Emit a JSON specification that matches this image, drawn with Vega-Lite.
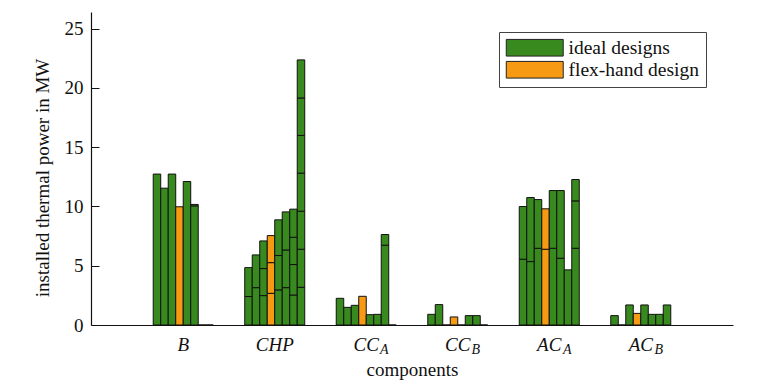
{
  "$schema": "https://vega.github.io/schema/vega-lite/v6.json",
  "width": 642,
  "height": 313,
  "autosize": {"type": "none"},
  "padding": {"left": 91, "top": 12, "right": 30, "bottom": 56},
  "config": {
    "view": {"stroke": null},
    "font": "Liberation Serif",
    "axis": {"grid": false}
  },
  "layer": [
    {
      "data": {"values": [
        {"c":"B","d":1,"u":1,"v":12.73,"t":"ideal designs"},
        {"c":"B","d":2,"u":1,"v":11.54,"t":"ideal designs"},
        {"c":"B","d":3,"u":1,"v":12.73,"t":"ideal designs"},
        {"c":"B","d":4,"u":1,"v":9.97,"t":"flex-hand design"},
        {"c":"B","d":5,"u":1,"v":12.1,"t":"ideal designs"},
        {"c":"B","d":6,"u":1,"v":10.05,"t":"ideal designs"},
        {"c":"B","d":6,"u":2,"v":0.12,"t":"ideal designs"},
        {"c":"B","d":7,"u":1,"v":0,"t":"ideal designs"},
        {"c":"B","d":8,"u":1,"v":0,"t":"ideal designs"},
        {"c":"CHP","d":1,"u":1,"v":2.4,"t":"ideal designs"},
        {"c":"CHP","d":1,"u":2,"v":2.44,"t":"ideal designs"},
        {"c":"CHP","d":2,"u":1,"v":3.15,"t":"ideal designs"},
        {"c":"CHP","d":2,"u":2,"v":2.76,"t":"ideal designs"},
        {"c":"CHP","d":3,"u":1,"v":2.48,"t":"ideal designs"},
        {"c":"CHP","d":3,"u":2,"v":2.28,"t":"ideal designs"},
        {"c":"CHP","d":3,"u":3,"v":2.33,"t":"ideal designs"},
        {"c":"CHP","d":4,"u":1,"v":2.67,"t":"flex-hand design"},
        {"c":"CHP","d":4,"u":2,"v":2.59,"t":"flex-hand design"},
        {"c":"CHP","d":4,"u":3,"v":2.28,"t":"flex-hand design"},
        {"c":"CHP","d":5,"u":1,"v":2.96,"t":"ideal designs"},
        {"c":"CHP","d":5,"u":2,"v":2.9,"t":"ideal designs"},
        {"c":"CHP","d":5,"u":3,"v":3.01,"t":"ideal designs"},
        {"c":"CHP","d":6,"u":1,"v":3.15,"t":"ideal designs"},
        {"c":"CHP","d":6,"u":2,"v":3.18,"t":"ideal designs"},
        {"c":"CHP","d":6,"u":3,"v":3.21,"t":"ideal designs"},
        {"c":"CHP","d":7,"u":1,"v":2.53,"t":"ideal designs"},
        {"c":"CHP","d":7,"u":2,"v":2.57,"t":"ideal designs"},
        {"c":"CHP","d":7,"u":3,"v":2.3,"t":"ideal designs"},
        {"c":"CHP","d":7,"u":4,"v":2.37,"t":"ideal designs"},
        {"c":"CHP","d":8,"u":1,"v":3.18,"t":"ideal designs"},
        {"c":"CHP","d":8,"u":2,"v":3.21,"t":"ideal designs"},
        {"c":"CHP","d":8,"u":3,"v":3.21,"t":"ideal designs"},
        {"c":"CHP","d":8,"u":4,"v":3.21,"t":"ideal designs"},
        {"c":"CHP","d":8,"u":5,"v":3.18,"t":"ideal designs"},
        {"c":"CHP","d":8,"u":6,"v":3.16,"t":"ideal designs"},
        {"c":"CHP","d":8,"u":7,"v":3.21,"t":"ideal designs"},
        {"c":"CC_A","d":1,"u":1,"v":2.25,"t":"ideal designs"},
        {"c":"CC_A","d":2,"u":1,"v":1.49,"t":"ideal designs"},
        {"c":"CC_A","d":3,"u":1,"v":1.66,"t":"ideal designs"},
        {"c":"CC_A","d":4,"u":1,"v":2.42,"t":"flex-hand design"},
        {"c":"CC_A","d":5,"u":1,"v":0.87,"t":"ideal designs"},
        {"c":"CC_A","d":6,"u":1,"v":0.9,"t":"ideal designs"},
        {"c":"CC_A","d":7,"u":1,"v":6.73,"t":"ideal designs"},
        {"c":"CC_A","d":7,"u":2,"v":0.9,"t":"ideal designs"},
        {"c":"CC_A","d":8,"u":1,"v":0,"t":"ideal designs"},
        {"c":"CC_B","d":1,"u":1,"v":0.9,"t":"ideal designs"},
        {"c":"CC_B","d":2,"u":1,"v":1.72,"t":"ideal designs"},
        {"c":"CC_B","d":3,"u":1,"v":0,"t":"ideal designs"},
        {"c":"CC_B","d":4,"u":1,"v":0.68,"t":"flex-hand design"},
        {"c":"CC_B","d":5,"u":1,"v":0,"t":"ideal designs"},
        {"c":"CC_B","d":6,"u":1,"v":0.79,"t":"ideal designs"},
        {"c":"CC_B","d":7,"u":1,"v":0.79,"t":"ideal designs"},
        {"c":"CC_B","d":8,"u":1,"v":0,"t":"ideal designs"},
        {"c":"AC_A","d":1,"u":1,"v":5.55,"t":"ideal designs"},
        {"c":"AC_A","d":1,"u":2,"v":4.44,"t":"ideal designs"},
        {"c":"AC_A","d":2,"u":1,"v":5.35,"t":"ideal designs"},
        {"c":"AC_A","d":2,"u":2,"v":5.4,"t":"ideal designs"},
        {"c":"AC_A","d":3,"u":1,"v":6.47,"t":"ideal designs"},
        {"c":"AC_A","d":3,"u":2,"v":4.11,"t":"ideal designs"},
        {"c":"AC_A","d":4,"u":1,"v":6.39,"t":"flex-hand design"},
        {"c":"AC_A","d":4,"u":2,"v":3.41,"t":"flex-hand design"},
        {"c":"AC_A","d":5,"u":1,"v":6.47,"t":"ideal designs"},
        {"c":"AC_A","d":5,"u":2,"v":4.87,"t":"ideal designs"},
        {"c":"AC_A","d":6,"u":1,"v":5.63,"t":"ideal designs"},
        {"c":"AC_A","d":6,"u":2,"v":5.71,"t":"ideal designs"},
        {"c":"AC_A","d":7,"u":1,"v":4.65,"t":"ideal designs"},
        {"c":"AC_A","d":8,"u":1,"v":6.47,"t":"ideal designs"},
        {"c":"AC_A","d":8,"u":2,"v":4.0,"t":"ideal designs"},
        {"c":"AC_A","d":8,"u":3,"v":1.8,"t":"ideal designs"},
        {"c":"AC_B","d":1,"u":1,"v":0.79,"t":"ideal designs"},
        {"c":"AC_B","d":2,"u":1,"v":0,"t":"ideal designs"},
        {"c":"AC_B","d":3,"u":1,"v":1.69,"t":"ideal designs"},
        {"c":"AC_B","d":4,"u":1,"v":0.98,"t":"flex-hand design"},
        {"c":"AC_B","d":5,"u":1,"v":1.69,"t":"ideal designs"},
        {"c":"AC_B","d":6,"u":1,"v":0.9,"t":"ideal designs"},
        {"c":"AC_B","d":7,"u":1,"v":0.9,"t":"ideal designs"},
        {"c":"AC_B","d":8,"u":1,"v":1.69,"t":"ideal designs"}
      ]},
      "mark": {"type": "bar", "stroke": "#111", "strokeWidth": 1},
      "encoding": {
        "x": {
          "field": "c", "type": "nominal",
          "sort": ["B","CHP","CC_A","CC_B","AC_A","AC_B"],
          "scale": {"paddingInner": 0.3443, "paddingOuter": 0.68},
          "axis": {
            "title": "components",
            "labelExpr": "split(datum.value,'_')[0]",
            "labelAngle": 0, "ticks": false,
            "labelFontStyle": "italic", "labelFontSize": 19, "labelColor": "#111",
            "labelPadding": 10.6,
            "domainColor": "#111", "domainWidth": 1,
            "titleFontSize": 19, "titleFontWeight": "normal", "titleColor": "#111",
            "titlePadding": 6
          }
        },
        "xOffset": {"field": "d", "type": "ordinal", "scale": {"paddingInner": 0, "paddingOuter": 0}},
        "y": {
          "field": "v", "type": "quantitative", "stack": "zero",
          "scale": {"domain": [0, 26.4], "nice": false},
          "axis": {
            "title": "installed thermal power in MW",
            "values": [0, 5, 10, 15, 20, 25],
            "tickSize": -8, "labelPadding": 16,
            "domainColor": "#111", "tickColor": "#111", "domainWidth": 1.2,
            "labelFontSize": 19, "labelColor": "#111",
            "titleFontSize": 19, "titleFontWeight": "normal", "titleColor": "#111",
            "titleY": 165.5, "titlePadding": 12
          }
        },
        "order": {"field": "u"},
        "color": {
          "field": "t", "type": "nominal",
          "scale": {"domain": ["ideal designs", "flex-hand design"], "range": ["#398a1e", "#f69a14"]},
          "legend": {
            "title": null, "orient": "none", "legendX": 408, "legendY": 20,
            "symbolType": "M-3.35,-0.98H3.35V0.98H-3.35Z", "symbolSize": 289,
            "symbolOffset": 20,
            "symbolStrokeColor": "#222", "symbolStrokeWidth": 1,
            "labelFontSize": 19.5, "labelFont": "Liberation Serif", "labelColor": "#111",
            "labelOffset": 24, "strokeColor": "#444", "fillColor": "white",
            "padding": 6, "rowPadding": 0
          }
        }
      }
    },
    {
      "data": {"values": [
        {"c":"B"},{"c":"CHP"},{"c":"CC_A"},{"c":"CC_B"},{"c":"AC_A"},{"c":"AC_B"}
      ]},
      "mark": {"type": "text", "text": ""},
      "encoding": {
        "x": {
          "field": "c", "type": "nominal",
          "sort": ["B","CHP","CC_A","CC_B","AC_A","AC_B"],
          "axis": {
            "title": null, "orient": "bottom",
            "labelExpr": "indexof(datum.value,'_')>=0 ? split(datum.value,'_')[1] : ''",
            "labelAngle": 0, "ticks": false, "domain": false,
            "labelFontStyle": "italic", "labelFontSize": 14, "labelColor": "#111",
            "labelPadding": 17, "labelOffset": 18
          }
        }
      }
    }
  ],
  "resolve": {"axis": {"x": "independent"}}
}
